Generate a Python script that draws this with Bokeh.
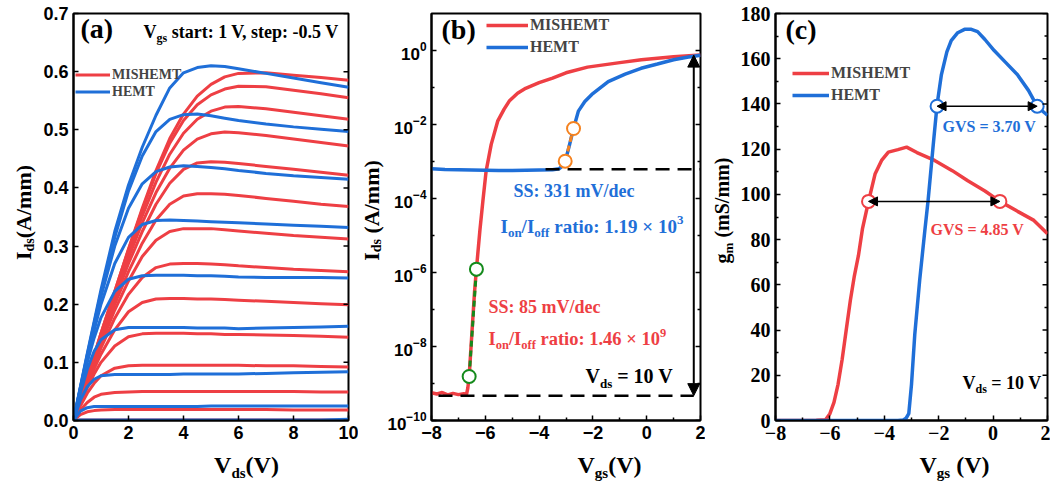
import numpy as np
from bokeh.plotting import figure
from bokeh.layouts import row, column
from bokeh.models import (Range1d, Label, Legend, LegendItem, FixedTicker, Arrow, NormalHead,
                          PrintfTickFormatter, LogTickFormatter)
from bokeh.embed import file_html
from bokeh.resources import INLINE

RED = "#EE3F44"
BLUE = "#1F6FD8"
ORANGE = "#F5821F"
GREEN = "#158A1C"
SERIF = "Liberation Serif"
SANS = "Liberation Sans"

# ---------------- (a) output characteristics ----------------
vds = [0, 0.25, 0.5, 0.75, 1, 1.5, 2, 2.5, 3, 3.5, 4, 4.5, 5, 5.5, 6, 7, 8, 9, 10]
mis_vgs_p1_0 = [0, .037, .075, .112, .15, .222, .295, .365, .43, .485, .527, .558, .578, .591, .597, .598, .594, .59, .585]
mis_vgs_p0_5 = [0, .037, .075, .112, .15, .222, .294, .362, .425, .477, .516, .543, .56, .57, .575, .574, .568, .562, .555]
mis_vgs_0_0 = [0, .037, .074, .11, .147, .218, .288, .352, .41, .458, .494, .518, .532, .539, .54, .536, .53, .524, .518]
mis_vgs_m0_5 = [0, .036, .073, .109, .145, .214, .28, .34, .392, .434, .465, .484, .493, .496, .495, .49, .484, .478, .472]
mis_vgs_m1_0 = [0, .036, .072, .107, .142, .208, .27, .325, .372, .408, .432, .443, .445, .444, .442, .437, .432, .427, .422]
mis_vgs_m1_5 = [0, .035, .07, .104, .138, .2, .256, .305, .345, .372, .386, .39, .39, .389, .387, .382, .377, .372, .368]
mis_vgs_m2_0 = [0, .034, .068, .1, .132, .19, .24, .282, .31, .325, .33, .33, .33, .328, .326, .322, .318, .315, .312]
mis_vgs_m2_5 = [0, .033, .065, .096, .125, .176, .217, .246, .263, .269, .27, .27, .269, .268, .266, .263, .26, .258, .256]
mis_vgs_m3_0 = [0, .031, .061, .089, .114, .156, .187, .203, .209, .21, .21, .209, .209, .208, .207, .205, .203, .201, .199]
mis_vgs_m3_5 = [0, .029, .056, .08, .1, .128, .144, .149, .15, .15, .15, .149, .149, .148, .148, .147, .146, .145, .143]
mis_vgs_m4_0 = [0, .025, .047, .064, .077, .09, .094, .095, .095, .095, .095, .095, .095, .095, .095, .094, .094, .093, .092]
mis_vgs_m4_5 = [0, .018, .031, .04, .045, .048, .049, .05, .05, .05, .05, .05, .05, .05, .05, .05, .05, .049, .049]
mis_vgs_m5_0 = [0, .01, .015, .017, .018, .019, .019, .019, .019, .019, .019, .019, .019, .019, .019, .019, .018, .018, .018]
mis_vgs_m5_5 = [0, .001, .001, .001, .001, .001, .001, .001, .001, .001, .001, .001, .001, .001, .001, .001, .001, .001, .001]

hemt_vgs_p1_0 = [0, .058, .115, .17, .225, .325, .405, .47, .525, .572, .598, .607, .61, .609, .605, .597, .589, .581, .573]
hemt_vgs_p0_5 = [0, .057, .113, .167, .22, .315, .395, .455, .497, .518, .526, .527, .524, .52, .516, .51, .505, .501, .497]
hemt_vgs_0_0 = [0, .056, .11, .163, .213, .3, .365, .407, .428, .436, .438, .437, .435, .433, .43, .425, .421, .418, .415]
hemt_vgs_m0_5 = [0, .055, .107, .155, .2, .27, .315, .337, .344, .345, .344, .343, .342, .341, .34, .338, .336, .334, .332]
hemt_vgs_m1_0 = [0, .052, .1, .142, .177, .222, .243, .249, .25, .25, .25, .249, .249, .248, .247, .246, .246, .246, .245]
hemt_vgs_m1_5 = [0, .047, .088, .119, .139, .156, .16, .16, .16, .16, .16, .159, .159, .159, .158, .159, .16, .161, .162]
hemt_vgs_m2_0 = [0, .035, .058, .071, .077, .079, .079, .079, .079, .079, .08, .08, .08, .08, .08, .081, .082, .083, .084]
hemt_vgs_m2_5 = [0, .016, .022, .024, .024, .024, .024, .024, .024, .024, .024, .024, .025, .025, .025, .025, .025, .025, .025]
hemt_vgs_m3_0 = [0, .001, .001, .001, .001, .001, .001, .001, .001, .001, .001, .001, .001, .001, .001, .001, .001, .001, .002]

a_xticks = [0, 2, 4, 6, 8, 10]
a_yticks = [0.0, 0.1, 0.2, 0.3, 0.4, 0.5, 0.6, 0.7]

# ---------------- (b) transfer characteristics (log) ----------------
vgs_tr_mis = [-8.0, -7.8, -7.6, -7.4, -7.2, -7.0, -6.8, -6.7, -6.65, -6.6, -6.5, -6.4, -6.33, -6.2, -6.09,
              -5.97, -5.78, -5.54, -5.3, -5.11, -4.8, -4.5, -4.0, -3.5, -3.0, -2.2, -1.0, -0.2, 1.0, 2.0]
ids_tr_mis = [5.6e-10, 5.2e-10, 5.7e-10, 4.9e-10, 5.4e-10, 5.0e-10, 5.3e-10, 5.0e-10, 7.5e-10, 1.55e-9,
              2.2e-8, 3.0e-7, 1.23e-6, 1.4e-5, 8.5e-5, 5.5e-4, 2.9e-3, 1.23e-2, 2.6e-2, 4.3e-2,
              7.0e-2, 9.5e-2, 0.135, 0.18, 0.25, 0.355, 0.47, 0.56, 0.68, 0.76]
vgs_tr_hemt = [-8.0, -7.5, -7.0, -6.5, -6.0, -5.5, -5.0, -4.5, -4.0, -3.5, -3.25, -3.15, -3.03, -2.9, -2.72,
               -2.54, -2.3, -2.04, -1.43, -0.8, -0.21, 0.4, 1.0, 1.5, 2.0]
ids_tr_hemt = [6.4e-4, 6.1e-4, 6.0e-4, 5.9e-4, 5.8e-4, 5.7e-4, 5.7e-4, 5.8e-4, 5.9e-4, 6.0e-4,
               6.4e-4, 7.4e-4, 1.02e-3, 2.3e-3, 7.8e-3, 2.3e-2, 4.2e-2, 6.5e-2, 0.145, 0.23,
               0.33, 0.43, 0.56, 0.66, 0.74]
ss_mis_vgs = [-6.6, -6.33]
ss_mis_ids = [1.55e-9, 1.23e-6]
ss_hemt_vgs = [-3.03, -2.72]
ss_hemt_ids = [1.02e-3, 7.8e-3]
ion_level = 0.75
ioff_hemt = 6.2e-4
ioff_mis = 4.7e-10
ratio_arrow_vgs = 1.75
ioff_hemt_from = -3.76
ioff_mis_from = -7.74
b_xticks = [-8, -6, -4, -2, 0, 2]
b_xminor = [-7, -5, -3, -1, 1]
b_yticks = [1e-10, 1e-8, 1e-6, 1e-4, 1e-2, 1e0]
b_yminor = [1e-9, 1e-7, 1e-5, 1e-3, 1e-1]

# ---------------- (c) transconductance ----------------
vgs_gm_mis = [-8.0, -7.0, -6.5, -6.16, -6.0, -5.85, -5.7, -5.55, -5.4, -5.25, -5.1, -4.95, -4.8, -4.58, -4.34,
              -4.1, -3.85, -3.5, -3.18, -2.8, -2.15, -1.5, -0.93, -0.3, 0.25, 0.9, 1.5, 2.0]
gm_mis = [0, 0, 0.1, 0.3, 3, 8, 16, 27, 40, 53, 64, 73, 85, 96.9, 109,
          115, 118.7, 119.8, 120.9, 118.5, 115, 110.5, 106, 101.5, 96.9, 92.5, 88.5, 82.6]
vgs_gm_hemt = [-8.0, -6.0, -4.0, -3.5, -3.3, -3.2, -3.1, -3.0, -2.88, -2.7, -2.51, -2.39, -2.2, -2.06, -1.9,
               -1.7, -1.54, -1.3, -1.05, -0.8, -0.57, -0.3, 0.04, 0.45, 0.89, 1.3, 1.62, 1.8, 2.0]
gm_hemt = [0, 0, 0, 0, 0.2, 1, 3, 16, 38, 62, 84, 97.3, 122, 139.6, 153,
           163, 168, 171.5, 173, 173, 172, 168.5, 163.6, 158.5, 153, 146, 138.9, 137, 135]
gvs_mis_vgs = [-4.58, 0.25]
gvs_mis_gm = [96.9, 96.9]
gvs_hemt_vgs = [-2.06, 1.62]
gvs_hemt_gm = [139.0, 139.0]
c_xticks = [-8, -6, -4, -2, 0, 2]
c_xminor = [-7, -5, -3, -1, 1]
c_yticks = [0, 20, 40, 60, 80, 100, 120, 140, 160, 180]
c_yminor = [10, 30, 50, 70, 90, 110, 130, 150, 170]

# ---------------- helpers ----------------
TNRB = {' ': .25, '(': .333, ')': .333, '×': .570, '=': .570, '-': .333, '.': .25, ',': .25, '/': .278,
        ':': .333, 'A': .722, 'G': .778, 'H': .778, 'I': .389, 'E': .667, 'M': .944, 'S': .556,
        'T': .667, 'V': .722, 'a': .5, 'c': .444, 'd': .556, 'e': .444, 'f': .333, 'g': .5, 'i': .278,
        'm': .833, 'n': .556, 'o': .5, 'p': .556, 'r': .444, 's': .389, 't': .333, 'v': .5}
MID = 0.3375  # distance from alphabetic baseline to the middle of the font box (em)


def tw(s, size):
    return sum(TNRB.get(c, 0.5) for c in s) * size


def rich(p, fleft, fbottom, parts, gx, gy, angle=0.0, align="left", color="black"):
    """Place a run of text parts (text, px size, baseline shift down) with baseline at page gx, gy."""
    total = sum(tw(t, s) for t, s, _ in parts)
    pos = {"left": 0.0, "center": -total / 2.0, "right": -total}[align]
    for t, s, sh in parts:
        stripped = t.lstrip(" ")
        pos += tw(t[:len(t) - len(stripped)], s)
        core = stripped.rstrip(" ")
        if angle == 0.0:
            x, y = gx + pos, gy + sh - MID * s
        else:
            x, y = gx + sh - MID * s, gy - pos
        p.add_layout(Label(x=x - fleft, y=fbottom - y, x_units="screen", y_units="screen", text=core,
                           text_font=SERIF, text_font_style="bold", text_font_size=f"{s}px",
                           text_color=color, text_baseline="middle", text_align="left", angle=angle))
        pos += tw(stripped, s)


def make_fig(width, fl, fr, xr, yr, ytype="linear"):
    p = figure(width=width, height=448, x_range=xr, y_range=yr, y_axis_type=ytype,
               output_backend="svg", toolbar_location=None,
               min_border_left=fl, min_border_right=fr, min_border_top=13, min_border_bottom=28)
    p.outline_line_color = "black"
    p.outline_line_width = 2
    p.xgrid.visible = False
    p.ygrid.visible = False
    p.background_fill_color = "white"
    p.border_fill_color = "white"
    return p


def text_fig(width, height):
    f = figure(width=width, height=height, x_range=Range1d(0, 1), y_range=Range1d(0, 1),
               output_backend="svg", toolbar_location=None, x_axis_location=None, y_axis_location=None,
               min_border=0)
    f.outline_line_color = None
    f.grid.visible = False
    f.background_fill_color = "white"
    f.border_fill_color = "white"
    return f


def style(ax, font, size, ticks, minor, fmt=None):
    ax.ticker = FixedTicker(ticks=ticks, minor_ticks=minor)
    if fmt is not None:
        ax.formatter = fmt
    ax.axis_line_width = 2
    ax.axis_line_color = "black"
    ax.major_tick_in = 5
    ax.major_tick_out = 0
    ax.major_tick_line_width = 1.5
    ax.minor_tick_in = 3
    ax.minor_tick_out = 0
    ax.minor_tick_line_width = 1.5
    ax.major_label_text_font = font
    ax.major_label_text_font_style = "bold"
    ax.major_label_text_font_size = size
    ax.major_label_text_color = "black"
    ax.major_label_standoff = 5


def right_ticks(p, x_end, x_span, frame_w, ticks, minor):
    for tk, ln in ((ticks, 5.0), (minor, 3.0)):
        if tk:
            d = x_span * ln / frame_w
            p.segment(x0=[x_end] * len(tk), y0=tk, x1=[x_end - d] * len(tk), y1=tk,
                      line_color="black", line_width=1.5)


def legend(p, r1, r2, loc, gw, gh, fs):
    leg = Legend(items=[LegendItem(label="MISHEMT", renderers=[r1]), LegendItem(label="HEMT", renderers=[r2])],
                 location=loc, orientation="vertical", glyph_width=gw, glyph_height=gh, label_height=gh,
                 label_standoff=2, spacing=0, padding=0, margin=0, border_line_alpha=0,
                 background_fill_alpha=0, label_text_font=SERIF, label_text_font_style="bold",
                 label_text_font_size=fs)
    p.add_layout(leg)


# ---------------- panel (a) ----------------
ya = text_fig(40, 482)
pa = make_fig(318, 33, 10, Range1d(0, 10), Range1d(0, 0.7))
xa = text_fig(318, 34)
style(pa.xaxis[0], SANS, "18px", a_xticks, [])
style(pa.yaxis[0], SANS, "18px", a_yticks, [], PrintfTickFormatter(format="%.1f"))
mis_curves = [mis_vgs_p1_0, mis_vgs_p0_5, mis_vgs_0_0, mis_vgs_m0_5, mis_vgs_m1_0, mis_vgs_m1_5, mis_vgs_m2_0,
              mis_vgs_m2_5, mis_vgs_m3_0, mis_vgs_m3_5, mis_vgs_m4_0, mis_vgs_m4_5, mis_vgs_m5_0, mis_vgs_m5_5]
hemt_curves = [hemt_vgs_p1_0, hemt_vgs_p0_5, hemt_vgs_0_0, hemt_vgs_m0_5, hemt_vgs_m1_0, hemt_vgs_m1_5,
               hemt_vgs_m2_0, hemt_vgs_m2_5, hemt_vgs_m3_0]
ra = pa.multi_line([vds] * len(mis_curves), mis_curves, line_color=RED, line_width=3)
ba = pa.multi_line([vds] * len(hemt_curves), hemt_curves, line_color=BLUE, line_width=3)
right_ticks(pa, 10, 10, 275, a_yticks, [])
legend(pa, ra, ba, (2, 320), 35, 17, "14px")
rich(pa, 73, 420, [("(a)", 28, 0)], 80, 37)
rich(pa, 73, 420, [("V", 18, 0), ("gs", 12, 4), (" start: 1 V, step: -0.5 V", 18, 0)], 143, 38)
rich(xa, 40, 482, [("V", 24, 0), ("ds", 15, 5), ("(V)", 24, 0)], 213, 473, align="center")
rich(ya, 0, 482, [("I", 22, 0), ("ds", 14, 4), ("(A/mm)", 22, 0)], 30, 212, angle=np.pi / 2, align="center")

# ---------------- panel (b) ----------------
yb = text_fig(26, 482)
pb = make_fig(321, 44, 5, Range1d(-8, 2), Range1d(1e-10, 1e1), ytype="log")
xb = text_fig(321, 34)
style(pb.xaxis[0], SANS, "18px", b_xticks, b_xminor)
style(pb.yaxis[0], SANS, "17px", b_yticks, b_yminor, LogTickFormatter())
rb = pb.line(vgs_tr_mis, ids_tr_mis, line_color=RED, line_width=3.5)
bb = pb.line(vgs_tr_hemt, ids_tr_hemt, line_color=BLUE, line_width=3.5)
pb.line([ioff_hemt_from, 2], [ioff_hemt, ioff_hemt], line_color="black", line_width=2.5, line_dash="14 8")
pb.line([ioff_mis_from, ratio_arrow_vgs], [ioff_mis, ioff_mis], line_color="black", line_width=2.5,
        line_dash="14 8")
pb.line(ss_mis_vgs, ss_mis_ids, line_color=GREEN, line_width=3, line_dash="6 4")
pb.line(ss_hemt_vgs, ss_hemt_ids, line_color=ORANGE, line_width=3, line_dash="6 4")
pb.add_layout(Arrow(start=NormalHead(size=12, fill_color="black", line_color="black"),
                    end=NormalHead(size=12, fill_color="black", line_color="black"),
                    x_start=ratio_arrow_vgs, y_start=ioff_mis, x_end=ratio_arrow_vgs, y_end=ion_level,
                    line_width=2, line_color="black"))
pb.scatter(ss_mis_vgs, ss_mis_ids, size=13, marker="circle", fill_color="white", line_color=GREEN, line_width=2)
pb.scatter(ss_hemt_vgs, ss_hemt_ids, size=13, marker="circle", fill_color="white", line_color=ORANGE,
           line_width=2)
right_ticks(pb, 2, 10, 272, b_yticks, b_yminor)
legend(pb, rb, bb, (55, 362), 42, 22, "16px")
rich(pb, 428, 420, [("(b)", 28, 0)], 438, 38)
rich(pb, 428, 420, [("SS: 331 mV/dec", 18, 0)], 510, 197, color=BLUE)
rich(pb, 428, 420, [("I", 19, 0), ("on", 13, 4), ("/I", 19, 0), ("off", 13, 4), (" ratio: 1.19 × 10", 19, 0),
                    ("3", 13, -8)], 497, 232, color=BLUE)
rich(pb, 428, 420, [("SS: 85 mV/dec", 18, 0)], 485, 313, color=RED)
rich(pb, 428, 420, [("I", 18.5, 0), ("on", 12.5, 4), ("/I", 18.5, 0), ("off", 12.5, 4),
                    (" ratio: 1.46 × 10", 18.5, 0), ("9", 12.5, -8)], 485, 345, color=RED)
rich(pb, 428, 420, [("V", 20, 0), ("ds", 13, 5), (" = 10 V", 20, 0)], 582, 382)
rich(xb, 384, 482, [("V", 24, 0), ("gs", 15, 5), ("(V)", 24, 0)], 562, 473, align="center")
rich(yb, 358, 482, [("I", 22, 0), ("ds", 14, 3), (" (A/mm)", 22, 0)], 378, 210, angle=np.pi / 2, align="center")

# ---------------- panel (c) ----------------
yc = text_fig(32, 482)
pc = make_fig(313, 36, 3, Range1d(-8, 2), Range1d(0, 180))
xc = text_fig(313, 34)
style(pc.xaxis[0], SERIF, "20px", c_xticks, c_xminor)
style(pc.yaxis[0], SERIF, "20px", c_yticks, c_yminor)
rc = pc.line(vgs_gm_mis, gm_mis, line_color=RED, line_width=3.5)
bc = pc.line(vgs_gm_hemt, gm_hemt, line_color=BLUE, line_width=3.5)
for xs, ys in ((gvs_hemt_vgs, gvs_hemt_gm), (gvs_mis_vgs, gvs_mis_gm)):
    pc.add_layout(Arrow(start=NormalHead(size=9, fill_color="black", line_color="black"),
                        end=NormalHead(size=9, fill_color="black", line_color="black"),
                        x_start=xs[0], y_start=ys[0], x_end=xs[1], y_end=ys[1],
                        line_width=1.5, line_color="black"))
pc.scatter(gvs_hemt_vgs, gvs_hemt_gm, size=13, marker="circle", fill_color="white", line_color=BLUE, line_width=2)
pc.scatter(gvs_mis_vgs, gvs_mis_gm, size=13, marker="circle", fill_color="white", line_color=RED, line_width=2)
right_ticks(pc, 2, 10, 274, c_yticks, c_yminor)
legend(pc, rc, bc, (17, 314), 37, 22, "16px")
rich(pc, 773, 420, [("(c)", 28, 0)], 783, 38)
rich(pc, 773, 420, [("GVS  = 3.70 V", 16, 0)], 940, 131, color=BLUE)
rich(pc, 773, 420, [("GVS  = 4.85 V", 16, 0)], 928, 234, color=RED)
rich(pc, 773, 420, [("V", 18, 0), ("ds", 12, 4), (" = 10 V", 18, 0)], 960, 389)
rich(xc, 737, 482, [("V", 24, 0), ("gs", 15, 5), (" (V)", 24, 0)], 916, 473, align="center")
rich(yc, 705, 482, [("g", 20, 0), ("m", 13, 4), (" (mS/mm)", 20, 0)], 728, 210, angle=np.pi / 2, align="center")

layout = row(ya, column(pa, xa, spacing=0), yb, column(pb, xb, spacing=0), yc, column(pc, xc, spacing=0),
             spacing=0)
open("out.html", "w").write(file_html(layout, INLINE))
